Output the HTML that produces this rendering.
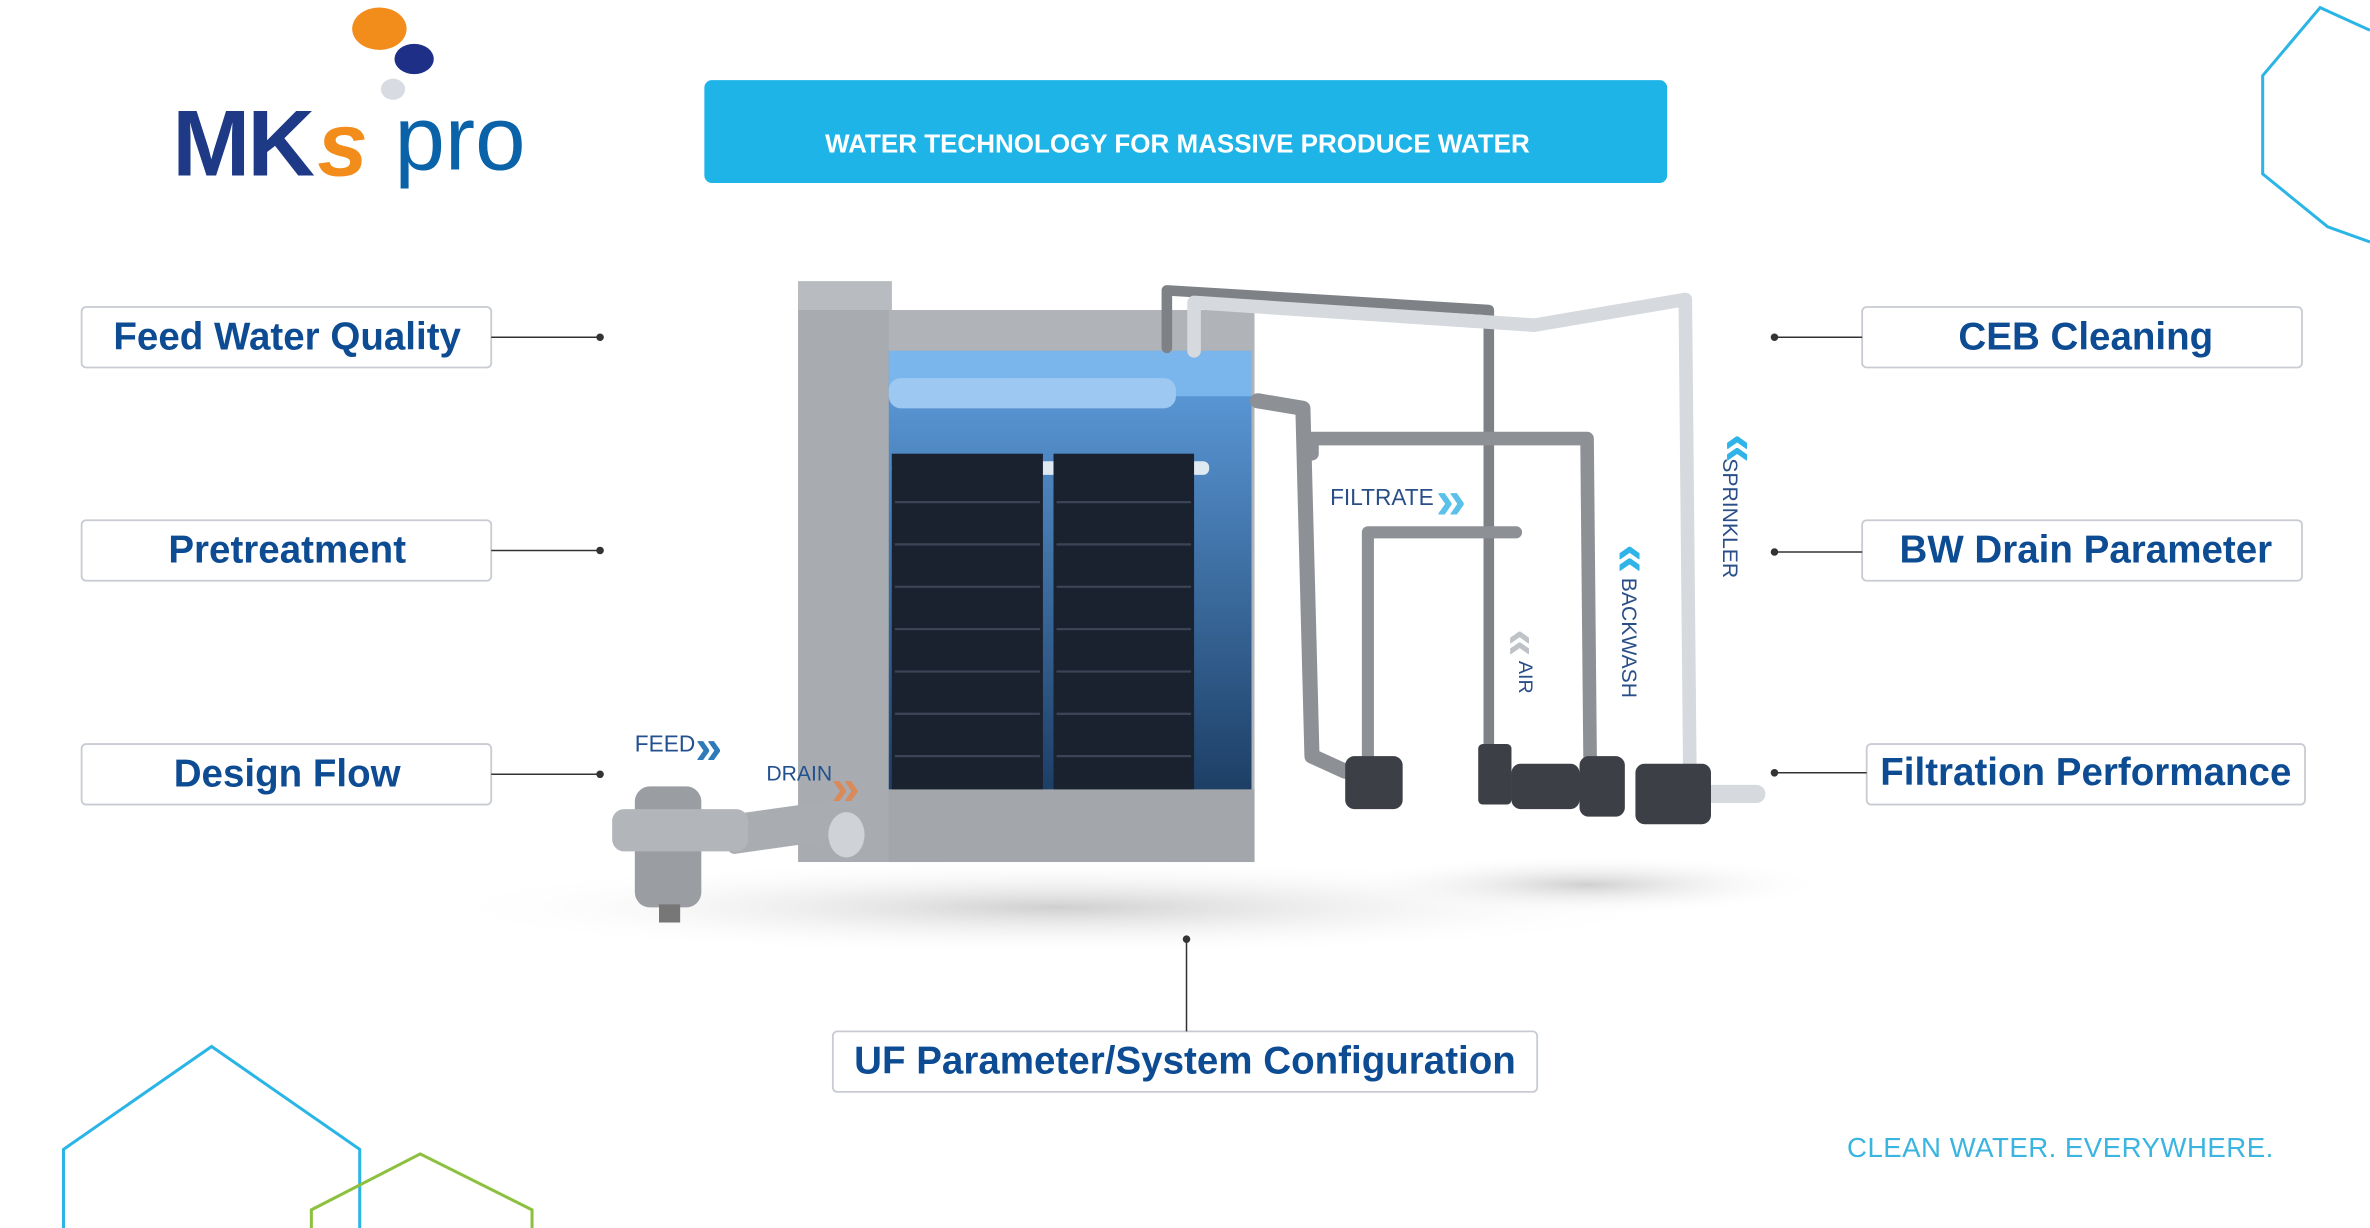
<!DOCTYPE html>
<html><head><meta charset="utf-8"><style>
html,body{margin:0;padding:0;background:#fff}
svg{display:block}
</style></head><body>
<svg width="2370" height="1228" viewBox="0 0 1568 812" preserveAspectRatio="none" xmlns="http://www.w3.org/2000/svg" font-family="Liberation Sans, sans-serif">
<defs>
<linearGradient id="blue" x1="0" y1="0" x2="0" y2="1"><stop offset="0" stop-color="#5f9fe0"/><stop offset="1" stop-color="#1d3f66"/></linearGradient>
<radialGradient id="sh"><stop offset="0" stop-color="#bbb" stop-opacity=".7"/><stop offset="1" stop-color="#fff" stop-opacity="0"/></radialGradient>
</defs>
<path d="M1568,20 L1535,5 L1497,50 L1497,115 L1540,150 L1568,160" fill="none" stroke="#2bb5e6" stroke-width="2"/>
<path d="M42,812 L42,760 L140,692 L238,760 L238,812" fill="none" stroke="#2bb5e6" stroke-width="2"/>
<path d="M206,812 L206,800 L278,763 L352,800 L352,812" fill="none" stroke="#8cc03f" stroke-width="2"/>
<ellipse cx="251" cy="19" rx="18" ry="14" fill="#f28c1b"/>
<ellipse cx="274" cy="39" rx="13" ry="10" fill="#1e2f88"/>
<ellipse cx="260" cy="59" rx="8" ry="7" fill="#d8dce2"/>
<text x="114" y="116" font-size="62" font-weight="bold" fill="#1e3a86" letter-spacing="-2">MK</text>
<text x="210" y="116" font-size="60" font-weight="bold" font-style="italic" fill="#f28c1b">s</text>
<text x="261" y="112" font-size="60" fill="#0a63a8">pro</text>
<rect x="466" y="53" width="637" height="68" rx="5" fill="#1fb4e8"/>
<text x="779" y="101" font-size="17.2" font-weight="bold" fill="#fff" text-anchor="middle">WATER TECHNOLOGY FOR MASSIVE PRODUCE WATER</text>
<ellipse cx="700" cy="600" rx="420" ry="32" fill="url(#sh)"/>
<ellipse cx="1050" cy="585" rx="160" ry="20" fill="url(#sh)"/>
<rect x="528" y="186" width="62" height="384" fill="#a8abb0"/>
<polygon points="528,186 590,186 590,205 528,205" fill="#b8bbbf"/>
<rect x="588" y="205" width="242" height="365" fill="#b0b3b8"/>
<rect x="588" y="232" width="240" height="290" fill="url(#blue)"/>
<rect x="588" y="232" width="240" height="30" fill="#7ab6ec"/>
<rect x="588" y="250" width="190" height="20" rx="8" fill="#9cc8f2"/>
<rect x="590" y="305" width="210" height="9" rx="4" fill="#dfe9f2"/>
<rect x="590" y="300" width="100" height="222" fill="#1a2230"/>
<rect x="697" y="300" width="93" height="222" fill="#1a2230"/>
<g stroke="#3a4454" stroke-width="1.5">
<line x1="592" y1="332" x2="688" y2="332"/><line x1="592" y1="360" x2="688" y2="360"/><line x1="592" y1="388" x2="688" y2="388"/><line x1="592" y1="416" x2="688" y2="416"/><line x1="592" y1="444" x2="688" y2="444"/><line x1="592" y1="472" x2="688" y2="472"/><line x1="592" y1="500" x2="688" y2="500"/>
<line x1="699" y1="332" x2="788" y2="332"/><line x1="699" y1="360" x2="788" y2="360"/><line x1="699" y1="388" x2="788" y2="388"/><line x1="699" y1="416" x2="788" y2="416"/><line x1="699" y1="444" x2="788" y2="444"/><line x1="699" y1="472" x2="788" y2="472"/><line x1="699" y1="500" x2="788" y2="500"/>
</g>
<rect x="588" y="522" width="242" height="48" fill="#a3a6ab"/>
<g fill="none" stroke-linecap="round" stroke-linejoin="round">
<path d="M772,230 L772,192 L985,205 L985,500" stroke="#7e8186" stroke-width="7"/>
<path d="M790,232 L790,200 L1015,215 L1115,198 L1118,510" stroke="#d6d9dd" stroke-width="9"/>
<path d="M832,265 L862,270 L868,500 L890,510" stroke="#8d9095" stroke-width="10"/>
<path d="M868,300 L868,290 L1050,290 L1052,500" stroke="#8d9095" stroke-width="9"/>
<path d="M905,505 L905,352 L1003,352" stroke="#8d9095" stroke-width="8"/>
<path d="M1118,525 L1162,525" stroke="#d6d9dd" stroke-width="12"/>
</g>
<g fill="#3c3f45">
<rect x="890" y="500" width="38" height="35" rx="6"/>
<rect x="978" y="492" width="22" height="40" rx="3"/>
<rect x="1000" y="505" width="45" height="30" rx="6"/>
<rect x="1045" y="500" width="30" height="40" rx="6"/>
<rect x="1082" y="505" width="50" height="40" rx="6"/>
</g>
<rect x="480" y="533" width="90" height="26" rx="4" fill="#a9acb1" transform="rotate(-8 525 546)"/>
<ellipse cx="560" cy="552" rx="12" ry="15" fill="#cfd2d6"/>
<rect x="420" y="520" width="44" height="80" rx="10" fill="#9a9da2"/>
<rect x="405" y="535" width="90" height="28" rx="8" fill="#b2b5ba"/>
<rect x="436" y="598" width="14" height="12" fill="#777"/>
<text x="420" y="497" font-size="15" fill="#23508f">FEED</text>
<text x="460" y="505" font-size="32" font-weight="bold" fill="#2f7ab8">»</text>
<text x="507" y="516" font-size="14" fill="#23508f">DRAIN</text>
<text x="550" y="532" font-size="34" font-weight="bold" fill="#d98a5a">»</text>
<text x="880" y="334" font-size="15" fill="#2a4f88">FILTRATE</text>
<text x="950" y="343" font-size="36" font-weight="bold" fill="#5cc1ea">»</text>
<text x="1132" y="300" font-size="34" font-weight="bold" fill="#2fb3e8" transform="rotate(-90 1148 290)">»</text>
<text x="1140" y="303" font-size="14" fill="#2a4f88" transform="rotate(90 1140 303)">SPRINKLER</text>
<text x="1066" y="372" font-size="34" font-weight="bold" fill="#2fb3e8" transform="rotate(-90 1080 365)">»</text>
<text x="1073" y="382" font-size="14" fill="#2a4f88" transform="rotate(90 1073 382)">BACKWASH</text>
<text x="995" y="425" font-size="32" font-weight="bold" fill="#bfc2c6" transform="rotate(-90 1009 420)">»</text>
<text x="1005" y="437" font-size="13" fill="#2a4f88" transform="rotate(90 1005 437)">AIR</text>
<g fill="#fff" stroke="#c8ccd2" stroke-width="1.2">
<rect x="54" y="203" width="271" height="40" rx="3"/>
<rect x="54" y="344" width="271" height="40" rx="3"/>
<rect x="54" y="492" width="271" height="40" rx="3"/>
<rect x="1232" y="203" width="291" height="40" rx="3"/>
<rect x="1232" y="344" width="291" height="40" rx="3"/>
<rect x="1235" y="492" width="290" height="40" rx="3"/>
<rect x="551" y="682" width="466" height="40" rx="3"/>
</g>
<g stroke="#333" stroke-width="1">
<line x1="325" y1="223" x2="397" y2="223"/><line x1="325" y1="364" x2="397" y2="364"/><line x1="325" y1="512" x2="397" y2="512"/>
<line x1="1174" y1="223" x2="1232" y2="223"/><line x1="1174" y1="365" x2="1232" y2="365"/><line x1="1174" y1="511" x2="1235" y2="511"/>
<line x1="785" y1="621" x2="785" y2="682"/>
</g>
<g fill="#333">
<circle cx="397" cy="223" r="2.5"/><circle cx="397" cy="364" r="2.5"/><circle cx="397" cy="512" r="2.5"/>
<circle cx="1174" cy="223" r="2.5"/><circle cx="1174" cy="365" r="2.5"/><circle cx="1174" cy="511" r="2.5"/>
<circle cx="785" cy="621" r="2.5"/>
</g>
<g font-size="25.5" font-weight="bold" fill="#0d4c93" text-anchor="middle">
<text x="190" y="231">Feed Water Quality</text>
<text x="190" y="372">Pretreatment</text>
<text x="190" y="520">Design Flow</text>
<text x="1380" y="231">CEB Cleaning</text>
<text x="1380" y="372">BW Drain Parameter</text>
<text x="1380" y="519">Filtration Performance</text>
<text x="784" y="710">UF Parameter/System Configuration</text>
</g>
<text x="1222" y="765" font-size="18.3" fill="#3bb5e0" letter-spacing="0.3">CLEAN WATER. EVERYWHERE.</text>
</svg>
</body></html>
